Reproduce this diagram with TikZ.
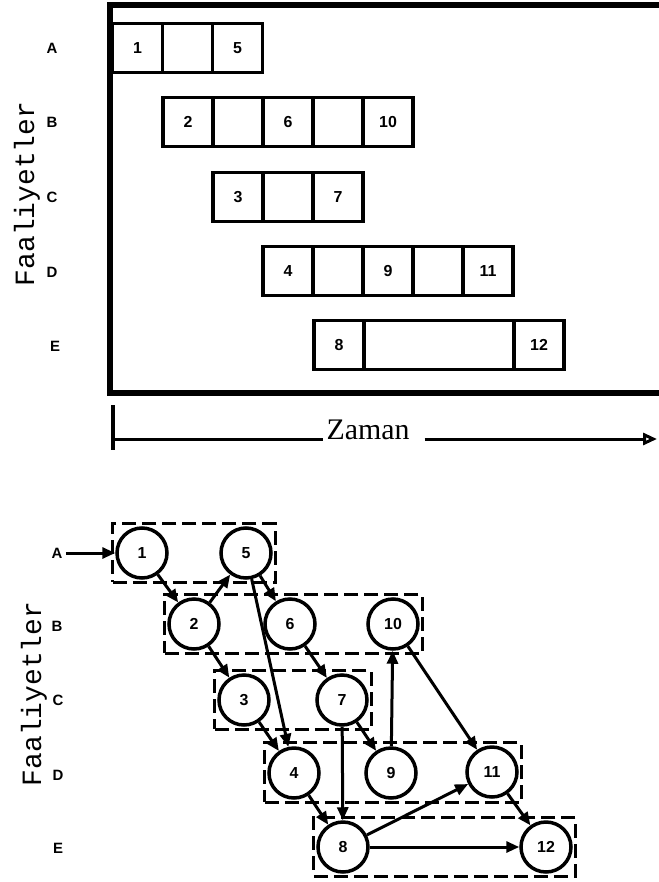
\documentclass[tikz,border=0pt]{standalone}
\usepackage{fontspec}
\setmainfont{Liberation Serif}
\setsansfont{Liberation Sans}
\setmonofont{Liberation Mono}
\usetikzlibrary{positioning,arrows.meta,fit}

\begin{document}
\begin{tikzpicture}[
  x=1bp, y=-1bp,
  >={Triangle[length=13bp,width=11bp]},
  cell/.style={
    rectangle, draw, line width=3.5bp, inner sep=0pt, outer sep=0pt,
    minimum width=50bp, minimum height=49bp,
    font=\sffamily\bfseries\fontsize{16}{16}\selectfont
  },
  olay/.style={
    circle, draw, line width=3.5bp, inner sep=0pt, minimum size=50bp,
    font=\sffamily\bfseries\fontsize{16}{16}\selectfont
  },
  grup/.style={draw, dash pattern=on 14bp off 6bp, line width=3bp, inner sep=2.5bp},
  harf/.style={font=\sffamily\bfseries\fontsize{15}{15}\selectfont},
  eksen/.style={font=\ttfamily\fontsize{28}{28}\selectfont, rotate=90},
  ok/.style={->, line width=3bp}
]
  \useasboundingbox (0,0) rectangle (659,882);

  % cerceve
  \draw[line width=5.5bp] (659,5) -- (110,5) -- (110,393) -- (659,393);

  % faaliyet harfleri (ust)
  \node[harf] (tA) at (52,48) {A};
  \node[harf] (tB) at (52,122) {B};
  \node[harf] (tC) at (52,197) {C};
  \node[harf] (tD) at (52,272) {D};
  \node[harf] (tE) at (55,346) {E};
  \node[eksen] (fa1) at (27,194) {Faaliyetler};

  % A
  \node[cell] (a1) at (137.5,48) {1};
  \node[cell, right=0pt of a1] (a2) {};
  \node[cell, right=0pt of a2] (a3) {5};

  % B
  \node[cell] (b1) at (188,122) {2};
  \node[cell, right=0pt of b1] (b2) {};
  \node[cell, right=0pt of b2] (b3) {6};
  \node[cell, right=0pt of b3] (b4) {};
  \node[cell, right=0pt of b4] (b5) {10};

  % C
  \node[cell] (c1) at (238,197) {3};
  \node[cell, right=0pt of c1] (c2) {};
  \node[cell, right=0pt of c2] (c3) {7};

  % D
  \node[cell] (d1) at (288,271) {4};
  \node[cell, right=0pt of d1] (d2) {};
  \node[cell, right=0pt of d2] (d3) {9};
  \node[cell, right=0pt of d3] (d4) {};
  \node[cell, right=0pt of d4] (d5) {11};

  % E
  \node[cell] (e1) at (339,345) {8};
  \node[cell, minimum width=150bp, right=0pt of e1] (e2) {};
  \node[cell, right=0pt of e2] (e3) {12};

  % zaman ekseni
  \coordinate (z0) at (113,439);
  \coordinate (z1) at (657,439);
  \coordinate (zu) at (113,405);
  \coordinate (za) at (113,450);
  \node[font=\rmfamily\fontsize{30}{30}\selectfont, inner sep=3bp] (zaman) at (368,430) {Zaman};
  \draw[line width=3.5bp] (zu) -- (za);
  \draw[line width=3bp] (z0) -- (zaman.west |- z0);
  \draw[line width=3bp, -{Triangle[open,length=14bp,width=12bp]}, shorten <=12bp] (zaman.east |- z0) -- (z1);

  % faaliyet harfleri (alt)
  \node[harf] (lA) at (57,553) {A};
  \node[harf] (lB) at (57,626) {B};
  \node[harf] (lC) at (58,700) {C};
  \node[harf] (lD) at (58,775) {D};
  \node[harf] (lE) at (58,848) {E};
  \node[eksen] (fa2) at (34,694) {Faaliyetler};

  % olaylar
  \node[olay] (n1) at (142,553) {1};
  \node[olay] (n5) at (246,553) {5};
  \node[olay] (n2) at (194,624) {2};
  \node[olay] (n6) at (290,624) {6};
  \node[olay] (n10) at (393,624) {10};
  \node[olay] (n3) at (244,700) {3};
  \node[olay] (n7) at (342,700) {7};
  \node[olay] (n4) at (294,773) {4};
  \node[olay] (n9) at (391,773) {9};
  \node[olay] (n11) at (492,772) {11};
  \node[olay] (n8) at (343,847) {8};
  \node[olay] (n12) at (546,847) {12};

  % kesikli gruplar
  \node[grup, fit=(n1)(n5)] (gA) {};
  \node[grup, fit=(n2)(n10)] (gB) {};
  \node[grup, fit=(n3)(n7)] (gC) {};
  \node[grup, fit=(n4)(n11)] (gD) {};
  \node[grup, fit=(n8)(n12)] (gE) {};

  % oklar
  \draw[ok] (lA) -- (n1);
  \draw[ok] (n1) -- (n2);
  \draw[ok] (n2) -- (n5);
  \draw[ok] (n5) -- (n6);
  \draw[ok] (n5) -- (n4);
  \draw[ok] (n2) -- (n3);
  \draw[ok] (n6) -- (n7);
  \draw[ok] (n3) -- (n4);
  \draw[ok] (n7) -- (n9);
  \draw[ok] (n7) -- (n8);
  \draw[ok] (n9) -- (n10);
  \draw[ok] (n10) -- (n11);
  \draw[ok] (n4) -- (n8);
  \draw[ok] (n8) -- (n11);
  \draw[ok] (n8) -- (n12);
  \draw[ok] (n11) -- (n12);

\end{tikzpicture}
\end{document}
